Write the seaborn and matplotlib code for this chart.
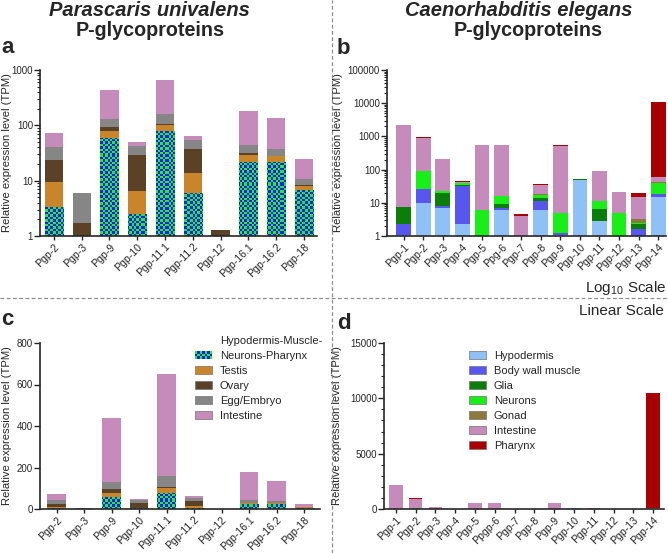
import numpy as np
import seaborn as sns
import matplotlib.pyplot as plt
from matplotlib.patches import Patch, Rectangle
from matplotlib.legend_handler import HandlerBase
from matplotlib.lines import Line2D
from matplotlib import ticker

# ---------------- data ----------------
pu_genes = ["Pgp-2", "Pgp-3", "Pgp-9", "Pgp-10", "Pgp-11.1", "Pgp-11.2",
            "Pgp-12", "Pgp-16.1", "Pgp-16.2", "Pgp-18"]
pu_tissues = ["Hypodermis-Muscle-Neurons-Pharynx", "Testis", "Ovary", "Egg/Embryo", "Intestine"]
pu_hmnp = [3.4, 0, 60, 2.5, 78, 6, 0, 22, 22, 6.8]
pu_testis = [6.1, 0, 18, 3.9, 25, 8, 0, 7, 6, 1.2]
pu_ovary = [14.5, 1.7, 17, 22.6, 1, 23, 1.3, 2, 0.3, 0.2]
pu_egg = [17, 4.3, 35, 14, 56, 18, 0, 14, 9.7, 2.3]
pu_intestine = [31, 0, 310, 7, 490, 10, 0, 135, 99, 14.5]

ce_genes_log = ["Pgp-1", "Pgp-2", "Pgp-3", "Pgp-4", "Pgp-5", "Ppg-6", "Pgp-7",
                "Pgp-8", "Pgp-9", "Pgp-10", "Pgp-11", "Pgp-12", "Pgp-13", "Pgp-14"]
ce_genes_lin = ["Pgp-1", "Pgp-2", "Pgp-3", "Pgp-4", "Pgp-5", "Ppgp-6", "Pgp-7",
                "Pgp-8", "Pgp-9", "Pgp-10", "Pgp-11", "Pgp-12", "Pgp-13", "Pgp-14"]
ce_tissues = ["Hypodermis", "Body wall muscle", "Glia", "Neurons", "Gonad", "Intestine", "Pharynx"]
ce_hypodermis = [1.1, 10, 7, 2.3, 0, 6, 0, 6, 1.1, 50, 2.8, 0, 1.0, 15]
ce_muscle = [1.2, 16, 1, 29.7, 0, 1, 0, 5, 0.1, 0, 0, 0, 0.6, 3]
ce_glia = [5, 0, 12, 3, 0, 2.3, 0, 3, 0, 1, 3.7, 0, 0.7, 0]
ce_neurons = [0.2, 64, 2, 5, 6, 6.7, 0, 3, 3.6, 1, 4.5, 4.8, 0.1, 22]
ce_gonad = [0, 0, 0, 0, 0, 0, 0, 1, 0, 0, 0, 0, 0.8, 2]
ce_intestine = [2193, 810, 188, 3, 534, 544, 3.9, 17, 525, 0, 79, 16.2, 11.8, 16]
ce_pharynx = [0, 50, 0, 2, 0, 0, 0.6, 2, 20, 0, 0, 0, 5, 10442]

pu_colors = [None, "#c8852c", "#5b4126", "#868686", "#c48bbb"]
ce_colors = ["#8fc1f7", "#5757ee", "#0a7d0a", "#19ee19", "#8c7a3c", "#c48bbb", "#a80000"]
checker_blue = "#1c1cff"
checker_green = "#22ee22"

# ---------------- style ----------------
sns.set_style("ticks")
plt.rcParams["font.family"] = ["Liberation Sans", "DejaVu Sans"]
plt.rcParams["mathtext.default"] = "regular"
plt.rcParams["axes.linewidth"] = 1.2

W, H = 668, 553
fig = plt.figure(figsize=(W / 100, H / 100), dpi=100)


def box(left, right, top, bottom):
    return [left / W, 1 - bottom / H, (right - left) / W, (bottom - top) / H]


ax_a = fig.add_axes(box(40, 317, 70, 236))
ax_b = fig.add_axes(box(387, 666, 70, 236))
ax_c = fig.add_axes(box(40, 320, 343, 509))
ax_d = fig.add_axes(box(384, 664, 343, 509))


def stacked(ax, genes, layers, colors, width):
    cum = np.cumsum(np.array(layers, dtype=float), axis=0)
    for k in range(len(layers) - 1, -1, -1):
        sns.barplot(x=genes, y=cum[k], color=colors[k] or checker_blue,
                    width=width, saturation=1, linewidth=0, errorbar=None, ax=ax)


def add_checker(ax, size=2.4):
    bb = ax.get_window_extent()
    w, h = int(round(bb.width)), int(round(bb.height))
    yy, xx = np.mgrid[0:h, 0:w]
    mask = ((np.floor(yy / size) + np.floor(xx / size)) % 2).astype(bool)
    img = np.zeros((h, w, 3))
    img[mask] = plt.matplotlib.colors.to_rgb(checker_blue)
    img[~mask] = plt.matplotlib.colors.to_rgb(checker_green)
    for bar in ax.containers[-1]:
        im = ax.imshow(img, extent=(0, 1, 0, 1), transform=ax.transAxes,
                       interpolation="nearest", aspect="auto", zorder=bar.get_zorder() + 0.1)
        im.set_clip_path(bar)


def style_axis(ax, xlim):
    ax.set_xlim(*xlim)
    sns.despine(ax=ax)
    ax.tick_params(axis="x", labelsize=7.6, length=3, width=1, pad=1)
    ax.tick_params(axis="y", labelsize=7, length=4, width=1, pad=1)
    ax.tick_params(axis="y", which="minor", length=2, width=0.8)
    plt.setp(ax.get_xticklabels(), rotation=45, ha="right", rotation_mode="anchor")
    ax.set_xlabel("")
    ax.set_ylabel("Relative expression level (TPM)", fontsize=8.1)


def log_axis(ax, top):
    ax.set_yscale("log")
    ax.set_ylim(1, top)
    ax.yaxis.set_major_locator(ticker.FixedLocator([10 ** i for i in range(int(np.log10(top)) + 1)]))
    ax.yaxis.set_major_formatter(ticker.FuncFormatter(lambda v, p: f"{v:.0f}"))
    ax.yaxis.set_minor_locator(ticker.LogLocator(base=10, subs=np.arange(2, 10)))
    ax.yaxis.set_minor_formatter(ticker.NullFormatter())


pu_layers = [pu_hmnp, pu_testis, pu_ovary, pu_egg, pu_intestine]
ce_layers = [ce_hypodermis, ce_muscle, ce_glia, ce_neurons, ce_gonad, ce_intestine, ce_pharynx]

# panel a
stacked(ax_a, pu_genes, pu_layers, pu_colors, 0.66)
log_axis(ax_a, 1000)
style_axis(ax_a, (-0.5, 9.47))
ax_a.yaxis.set_label_coords(-0.1, 0.5)

# panel b
stacked(ax_b, ce_genes_log, ce_layers, ce_colors, 0.75)
log_axis(ax_b, 100000)
style_axis(ax_b, (-0.85, 13.4))
ax_b.yaxis.set_label_coords(-0.158, 0.5)

# panel c
stacked(ax_c, pu_genes, pu_layers, pu_colors, 0.66)
ax_c.set_ylim(0, 800)
ax_c.set_yticks([0, 200, 400, 600, 800])
style_axis(ax_c, (-0.6, 9.58))
ax_c.yaxis.set_label_coords(-0.1, 0.5)

# panel d
stacked(ax_d, ce_genes_lin, ce_layers, ce_colors, 0.67)
ax_d.set_ylim(0, 15000)
ax_d.set_yticks([0, 5000, 10000, 15000])
ax_d.yaxis.set_minor_locator(ticker.MultipleLocator(1000))
style_axis(ax_d, (-0.6, 13.55))
ax_d.yaxis.set_label_coords(-0.15, 0.5)

add_checker(ax_a)
add_checker(ax_c)
ax_a.set_ylim(1, 1000)
ax_a.set_xlim(-0.5, 9.47)
ax_c.set_ylim(0, 800)
ax_c.set_xlim(-0.6, 9.58)


# ---------------- legends ----------------
class CheckerHandler(HandlerBase):
    def create_artists(self, legend, orig_handle, xdescent, ydescent, width, height, fontsize, trans):
        nx, ny = 7, 3
        cw, ch = width / nx, height / ny
        out = []
        for i in range(nx):
            for j in range(ny):
                col = checker_blue if (i + j) % 2 else checker_green
                out.append(Rectangle((-xdescent + i * cw, -ydescent + j * ch), cw, ch,
                                     facecolor=col, edgecolor="none", transform=trans))
        return out


checker_handle = Patch(facecolor=checker_blue)
blank = Patch(facecolor="none", edgecolor="none")
c_handles = [blank, checker_handle] + [Patch(facecolor=c, edgecolor="0.45", linewidth=0.5)
                                       for c in pu_colors[1:]]
c_labels = ["Hypodermis-Muscle-", "Neurons-Pharynx"] + pu_tissues[1:]
ax_c.legend(c_handles, c_labels, handler_map={checker_handle: CheckerHandler()},
            loc="upper left", bbox_to_anchor=(195 / W, 1 - 336 / H), bbox_transform=fig.transFigure,
            frameon=False, fontsize=8, labelspacing=0.45, handlelength=1.55, handleheight=0.65,
            handletextpad=0.7, borderpad=0, borderaxespad=0)

d_handles = [Patch(facecolor=c, edgecolor="0.45", linewidth=0.5) for c in ce_colors]
ax_d.legend(d_handles, ce_tissues, loc="upper left", bbox_to_anchor=(469 / W, 1 - 351 / H),
            bbox_transform=fig.transFigure, frameon=False, fontsize=8, labelspacing=0.45,
            handlelength=1.55, handleheight=0.65, handletextpad=0.7, borderpad=0, borderaxespad=0)

# ---------------- titles and labels ----------------
fig.text(149 / W, 1 - 16 / H, "Parascaris univalens", fontsize=14.5, weight="bold",
         style="italic", ha="center", va="baseline")
fig.text(150 / W, 1 - 36 / H, "P-glycoproteins", fontsize=14.2, weight="bold", ha="center", va="baseline")
fig.text(519 / W, 1 - 16 / H, "Caenorhabditis elegans", fontsize=14.5, weight="bold",
         style="italic", ha="center", va="baseline")
fig.text(528 / W, 1 - 36 / H, "P-glycoproteins", fontsize=14.2, weight="bold", ha="center", va="baseline")

for x, y, s in [(1, 53, "a"), (337, 54, "b"), (1, 325, "c"), (337, 329, "d")]:
    fig.text(x / W, 1 - y / H, s, fontsize=16, weight="bold", ha="left", va="baseline")

fig.text(667 / W, 1 - 292 / H, "Log$_{10}$ Scale", fontsize=11, ha="right", va="baseline")
fig.text(664 / W, 1 - 315 / H, "Linear Scale", fontsize=11, ha="right", va="baseline")

# dashed dividers
fig.add_artist(Line2D([332 / W, 332 / W], [0, 1], transform=fig.transFigure,
                      color="0.55", linewidth=0.9, dashes=(3, 2)))
fig.add_artist(Line2D([0, 1], [1 - 298 / H, 1 - 298 / H], transform=fig.transFigure,
                      color="0.55", linewidth=0.9, dashes=(3, 2)))

fig.savefig("out.png", dpi=100)
